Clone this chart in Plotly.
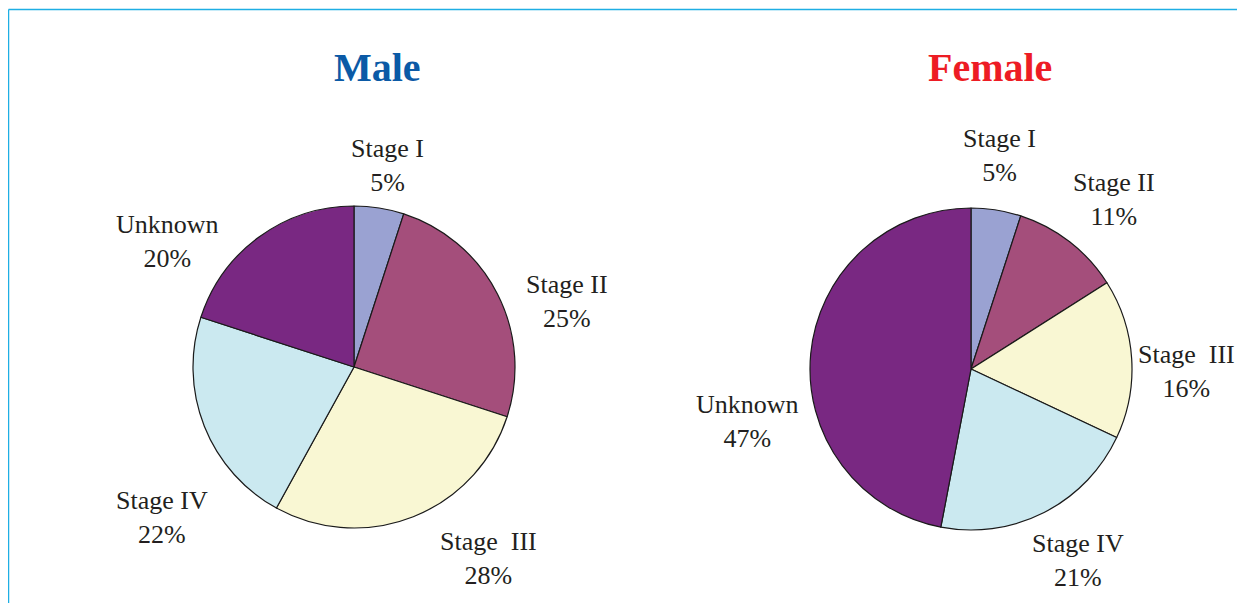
import plotly.graph_objects as go

W, H = 1245, 603
OFF = 8  # page body margin offset in the screenshot

categories = ["Stage I", "Stage II", "Stage III", "Stage IV", "Unknown"]
display_labels = ["Stage I", "Stage II", "Stage\u00a0 III", "Stage IV", "Unknown"]
male_values = [5, 25, 28, 22, 20]
female_values = [5, 11, 16, 21, 47]

slice_colors = ["#9aa2d2", "#a44e7b", "#f9f7d3", "#cbe9f0", "#792882"]

# layout (pixel) positions in screenshot coordinates
male_center, male_r = (354, 367), 161
female_center, female_r = (971, 369), 161
male_label_pos = [(387, 165), (567, 301), (488, 558), (162, 517), (167, 241)]
female_label_pos = [(999, 155), (1114, 199), (1186, 371), (1078, 560), (747, 421)]


def px_x(x):
    return (x - OFF) / W


def px_y(y):
    return 1 - (y - OFF) / H


def domain(center, r):
    cx, cy = center
    return dict(x=[px_x(cx - r), px_x(cx + r)],
                y=[px_y(cy + r), px_y(cy - r)])


fig = go.Figure()
for vals, center, r, name in [(male_values, male_center, male_r, "Male"),
                              (female_values, female_center, female_r, "Female")]:
    fig.add_trace(go.Pie(
        labels=categories, values=vals, name=name,
        sort=False, direction="clockwise", rotation=0,
        marker=dict(colors=slice_colors, line=dict(color="#1a1a1a", width=1.2)),
        textinfo="none", hoverinfo="label+percent",
        domain=domain(center, r), showlegend=False,
    ))

annotations = []
for vals, positions in [(male_values, male_label_pos), (female_values, female_label_pos)]:
    for lab, v, (px, py) in zip(display_labels, vals, positions):
        annotations.append(dict(
            text=f"{lab}<br>{v}%", x=px_x(px), y=px_y(py), xref="paper", yref="paper",
            xanchor="center", yanchor="middle", showarrow=False,
            font=dict(family="Liberation Serif", size=26, color="#231f20"),
        ))

annotations.append(dict(text="<b>Male</b>", x=px_x(378), y=px_y(68), xref="paper", yref="paper",
                        xanchor="center", yanchor="middle", showarrow=False,
                        font=dict(family="Liberation Serif", size=40, color="#0b5aa6")))
annotations.append(dict(text="<b>Female</b>", x=px_x(990), y=px_y(68), xref="paper", yref="paper",
                        xanchor="center", yanchor="middle", showarrow=False,
                        font=dict(family="Liberation Serif", size=40, color="#ed1c24")))

shapes = [
    dict(type="line", xref="paper", yref="paper", x0=px_x(8.5), x1=1.05, y0=px_y(9.5), y1=px_y(9.5),
         line=dict(color="#1eaee4", width=1.5)),
    dict(type="line", xref="paper", yref="paper", x0=px_x(8.5), x1=px_x(8.5), y0=px_y(9.5), y1=-0.05,
         line=dict(color="#1eaee4", width=1.5)),
]

fig.update_layout(
    width=W, height=H, margin=dict(l=0, r=0, t=0, b=0),
    paper_bgcolor="white", plot_bgcolor="white",
    annotations=annotations, shapes=shapes,
)

fig.write_html("out.html")
